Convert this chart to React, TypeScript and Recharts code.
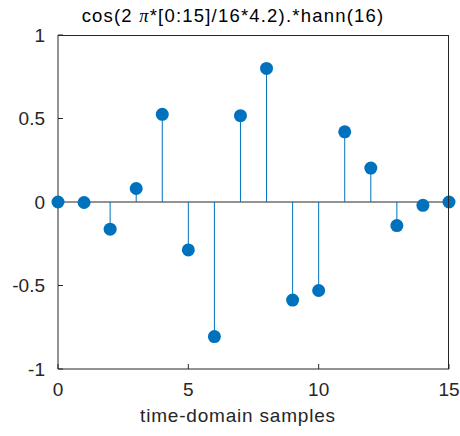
import { ComposedChart, Scatter, XAxis, YAxis, ReferenceLine } from 'recharts';

const samples = [0, 1, 2, 3, 4, 5, 6, 7, 8, 9, 10, 11, 12, 13, 14, 15];
const values = [0, -0.003, -0.163, 0.081, 0.525, -0.287, -0.806, 0.517, 0.8, -0.587, -0.53, 0.42, 0.203, -0.141, -0.02, 0];
const xTicks = [0, 5, 10, 15];
const yTicks = [-1, -0.5, 0, 0.5, 1];

const data = samples.map((n, i) => ({ n, v: values[i] }));

const blue = '#0072BD';
const ink = '#262626';
const font = '"Liberation Sans", Arial, sans-serif';

const Dot = (props: any) => <circle cx={props.cx} cy={props.cy} r={6.5} fill={blue} />;

export default function App() {
  return (
    <div style={{ position: 'absolute', left: 0, top: 0, width: 460, height: 436, background: '#fff', fontFamily: font }}>
      <div style={{ position: 'absolute', left: 0, width: 466, top: 5, textAlign: 'center', fontSize: 18.5, letterSpacing: 1.2, color: '#000' }}>
        cos(2 <i style={{ fontFamily: 'serif' }}>π</i>*[0:15]/16*4.2).*hann(16)
      </div>
      <div style={{ position: 'absolute', left: 0, top: 0, width: 460, height: 436 }}>
        <ComposedChart
          width={460}
          height={436}
          data={data}
          margin={{ top: 35, right: 11, left: 0, bottom: 0 }}
        >
          <XAxis
            dataKey="n"
            type="number"
            domain={[0, 15]}
            ticks={xTicks}
            height={67}
            stroke={ink}
            tickSize={-5}
            tickMargin={19}
            tick={{ fill: ink, fontSize: 19, fontFamily: font }}
          />
          <YAxis
            type="number"
            domain={[-1, 1]}
            ticks={yTicks}
            width={58}
            stroke={ink}
            tickSize={-5}
            tickMargin={18}
            tick={{ fill: ink, fontSize: 19, fontFamily: font }}
          />
          <ReferenceLine y={0} stroke={ink} strokeWidth={1} />
          {data.map((d) => (
            <ReferenceLine key={d.n} segment={[{ x: d.n, y: 0 }, { x: d.n, y: d.v }]} stroke={blue} strokeWidth={1} />
          ))}
          <Scatter dataKey="v" fill={blue} shape={Dot} isAnimationActive={false} />
        </ComposedChart>
      </div>
      {/* top and right edges of the axes box, drawn above the chart */}
      <div style={{ position: 'absolute', zIndex: 5, left: 58, top: 35, width: 390, height: 333, borderTop: `1px solid ${ink}`, borderRight: `1px solid ${ink}`, pointerEvents: 'none' }} />
      <div style={{ position: 'absolute', left: 0, width: 476, top: 405, textAlign: 'center', fontSize: 19, letterSpacing: 0.8, color: ink }}>
        time-domain samples
      </div>
    </div>
  );
}
